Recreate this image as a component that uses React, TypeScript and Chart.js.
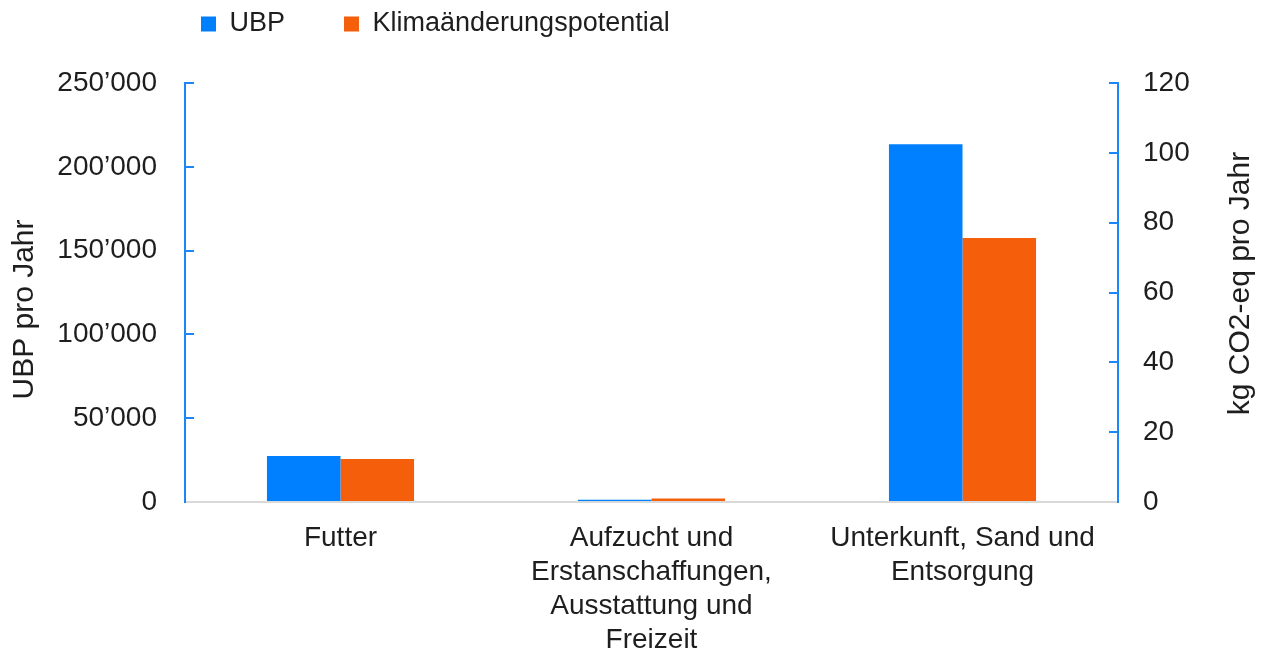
import React, { useEffect, useRef } from 'react';
import { Chart, registerables } from 'chart.js';

Chart.register(...registerables);

// ---- data ----
const categories: (string | string[])[] = [
  'Futter',
  ['Aufzucht und', 'Erstanschaffungen,', 'Ausstattung und', 'Freizeit'],
  ['Unterkunft, Sand und', 'Entsorgung'],
];
const seriesNames = ['UBP', 'Klimaänderungspotential'];
const ubpValues = [27500, 1300, 213500];
const klimaValues = [12.3, 1.0, 75.6];
const leftTicks = [0, 50000, 100000, 150000, 200000, 250000];
const rightTicks = [0, 20, 40, 60, 80, 100, 120];
const axisTitles = ['UBP pro Jahr', 'kg CO2-eq pro Jahr'];

// ---- style ----
const BLUE = '#0080ff';
const ORANGE = '#f55f0b';
const AXIS_BLUE = '#1a86f7';
const BASE_GREY = '#d9d9d9';
const TEXT = '#1e1e1e';
const FONT = "'Liberation Sans', Arial, Helvetica, sans-serif";
const LEGEND_PAD = 59;
const LEGEND_SIZE = 27;

const fmtThousands = (v: number) =>
  String(Math.round(v)).replace(/\B(?=(\d{3})+(?!\d))/g, '\u2019');

const legendPlacePlugin = {
  id: 'legendPlace',
  afterLayout(chart: any) {
    const lg = chart.legend;
    if (!lg) return;
    lg.left = 201 - LEGEND_PAD;
    lg.top = 24 - LEGEND_PAD - LEGEND_SIZE / 2;
  },
};

const axisTitlePlugin = {
  id: 'axisTitles',
  afterDraw(chart: any) {
    const ctx = chart.ctx;
    const ca = chart.chartArea;
    const yL = chart.scales.y;
    const yR = chart.scales.y1;
    const midY = (ca.top + ca.bottom) / 2;
    ctx.save();
    ctx.font = `30px ${FONT}`;
    ctx.fillStyle = TEXT;
    ctx.textAlign = 'center';
    ctx.textBaseline = 'middle';
    ctx.save();
    ctx.translate(yL.left + 25, midY + 17);
    ctx.rotate(-Math.PI / 2);
    ctx.fillText(axisTitles[0], 0, 0);
    ctx.restore();
    ctx.save();
    ctx.translate(yR.right - 24, midY - 9);
    ctx.rotate(-Math.PI / 2);
    ctx.fillText(axisTitles[1], 0, 0);
    ctx.restore();
    ctx.restore();
  },
};

export default function App() {
  const ref = useRef<HTMLCanvasElement | null>(null);

  useEffect(() => {
    if (!ref.current) return;
    const tickFont = { family: FONT, size: 28 };
    // legend box height = LEGEND_SIZE + LEGEND_PAD + 10; chart area top should sit at 83
    const topPad = 83 - (LEGEND_SIZE + LEGEND_PAD + 10);
    const chart = new Chart(ref.current, {
      type: 'bar',
      data: {
        labels: categories,
        datasets: [
          {
            label: seriesNames[0],
            data: ubpValues,
            backgroundColor: BLUE,
            yAxisID: 'y',
            categoryPercentage: 0.473,
            barPercentage: 1,
          },
          {
            label: seriesNames[1],
            data: klimaValues,
            backgroundColor: ORANGE,
            yAxisID: 'y1',
            categoryPercentage: 0.473,
            barPercentage: 1,
          },
        ],
      },
      options: {
        responsive: false,
        animation: false,
        devicePixelRatio: 1,
        layout: { padding: { top: topPad, left: 0, right: 0, bottom: 0 } },
        plugins: {
          legend: {
            position: 'top',
            align: 'start',
            labels: {
              boxWidth: 15,
              boxHeight: 15,
              padding: LEGEND_PAD,
              color: TEXT,
              font: { family: FONT, size: LEGEND_SIZE },
            },
          },
          tooltip: { enabled: false },
          title: { display: false },
        },
        scales: {
          x: {
            grid: { display: false, drawTicks: false },
            border: { display: true, color: BASE_GREY, width: 2 },
            ticks: {
              color: TEXT,
              font: { family: FONT, size: 28, lineHeight: 1.22 },
              padding: 19,
              maxRotation: 0,
              autoSkip: false,
            },
            afterFit: (s: any) => {
              s.height = 149;
            },
          },
          y: {
            position: 'left',
            min: leftTicks[0],
            max: leftTicks[leftTicks.length - 1],
            afterBuildTicks: (s: any) => {
              s.ticks = leftTicks.map((v) => ({ value: v }));
            },
            grid: {
              drawOnChartArea: false,
              drawTicks: true,
              tickLength: -9,
              color: AXIS_BLUE,
              lineWidth: 2,
            },
            border: { display: true, color: AXIS_BLUE, width: 2 },
            ticks: {
              color: TEXT,
              font: tickFont,
              padding: 37,
              callback: (v: any) => fmtThousands(Number(v)),
            },
            afterFit: (s: any) => {
              s.width = 185;
            },
          },
          y1: {
            position: 'right',
            min: rightTicks[0],
            max: rightTicks[rightTicks.length - 1],
            afterBuildTicks: (s: any) => {
              s.ticks = rightTicks.map((v) => ({ value: v }));
            },
            grid: {
              drawOnChartArea: false,
              drawTicks: true,
              tickLength: -9,
              color: AXIS_BLUE,
              lineWidth: 2,
            },
            border: { display: true, color: AXIS_BLUE, width: 2 },
            ticks: {
              color: TEXT,
              font: tickFont,
              padding: 34,
              callback: (v: any) => String(v),
            },
            afterFit: (s: any) => {
              s.width = 147;
            },
          },
        },
      } as any,
      plugins: [legendPlacePlugin, axisTitlePlugin],
    });
    return () => chart.destroy();
  }, []);

  return (
    <div style={{ position: 'absolute', left: 0, top: 0, width: 1265, height: 651, background: '#fff' }}>
      <canvas ref={ref} width={1265} height={651} style={{ width: 1265, height: 651, display: 'block' }} />
    </div>
  );
}
